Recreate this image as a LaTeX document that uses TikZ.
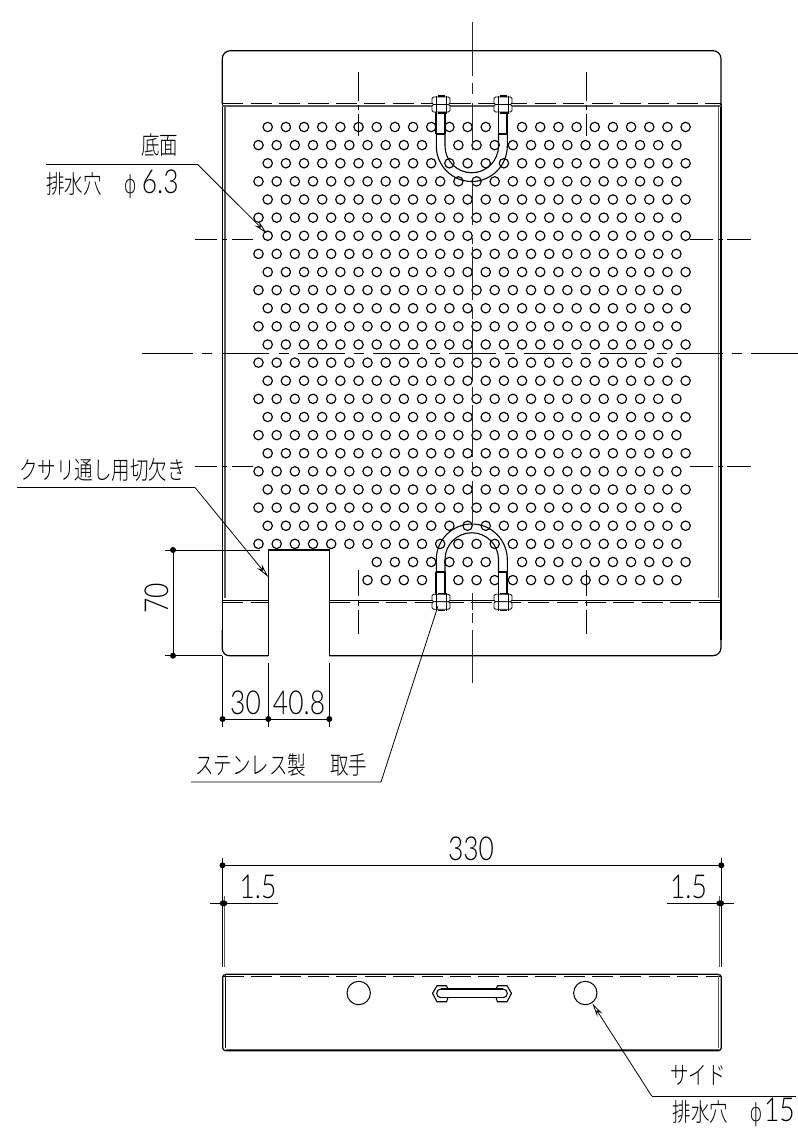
\documentclass[tikz,border=0pt]{standalone}
\usepackage{fontspec}
\usetikzlibrary{arrows.meta}
\newfontfamily\cad[FakeStretch=0.8]{Lato Light}
\newfontfamily\phifont[FakeStretch=0.8]{DejaVu Sans ExtraLight}
\newfontfamily\cjk[FakeStretch=0.74]{Noto Sans CJK JP Light}
\tikzset{
  ln/.style={line width=1.1pt,black},
  thk/.style={line width=1.2pt,black},
  grayl/.style={line width=1.8pt,black!65},
  hidden/.style={line width=1pt,black,dash pattern=on 21pt off 7.4pt},
  thin/.style={line width=.8pt,black},
  hole/.style={line width=1.15pt,black},
  dot/.style={fill=black,draw=none},
  lead/.style={line width=.8pt,black,-{Stealth[open,length=14pt,width=6pt,fill=white]}},
  plain/.style={line width=.8pt,black},
  txt/.style={font=\cad\fontsize{33}{33}\selectfont,inner sep=0pt},
  jtxt/.style={font=\cjk\fontsize{25}{25}\selectfont,inner sep=0pt},
}
\newcommand{\nutpair}[2]{% centre x, centre y
  \draw[thin,fill=white,rounded corners=1.5pt] (#1-9,#2-7.5) rectangle (#1+9,#2);
  \draw[thin,fill=white,rounded corners=1.5pt] (#1-9,#2) rectangle (#1+9,#2+7.5);
  \draw[thin] (#1-5,#2-9) -- (#1-5,#2+9) (#1+5,#2-9) -- (#1+5,#2+9);
  \draw[thk] (#1-3.5,#2-8.5) -- (#1+3.5,#2-8.5) (#1-3.5,#2+8.5) -- (#1+3.5,#2+8.5);
}
\newcommand{\leg}[3]{% centre x, y1, y2
  \fill[white] (#1-4.4,#2) rectangle (#1+4.4,#3);
  \draw[line width=1.9pt,black] (#1-4.4,#2) -- (#1-4.4,#3) (#1+4.4,#2) -- (#1+4.4,#3);
}
\newcommand{\phitext}[2]{{\phifont\fontsize{25}{25}\selectfont ϕ}\hspace{#1}{\cad\fontsize{33}{33}\selectfont #2}}
\begin{document}
\begin{tikzpicture}[x=1pt,y=-1pt]
\useasboundingbox (0,0) rectangle (798,1128);
\fill[white] (0,0) rectangle (798,1128);
% ---------- holes
\foreach \k in {0,...,25}{
  \pgfmathsetmacro{\yy}{127+18.125*\k}
  \pgfmathtruncatemacro{\odd}{mod(\k,2)}
  \pgfmathsetmacro{\xs}{\odd==1 ? 258.5 : 267.7}
  \pgfmathtruncatemacro{\cs}{\k>=24 ? 6 : 0}
  \foreach \c in {\cs,...,23}{
    \pgfmathsetmacro{\xx}{\xs+18.17*\c}
    \pgfmathtruncatemacro{\skip}{ ((\k==0||\k==24) && \c==13) || ((\k==1||\k==25) && \c==10) ? 1 : 0}
    \ifnum\skip=0
      \draw[hole] (\xx,\yy) circle (4.7);
    \fi
  }
}
% ---------- plan outline
\draw[thk,rounded corners=8pt] (222.3,104) -- (222.3,50.7) -- (721,50.7) -- (721,104);
\draw[thk] (222.3,104) -- (222.3,640);
\draw[thk] (721,104) -- (721,640);
\draw[thk,rounded corners=7pt] (222.3,630) -- (222.3,655.7) -- (268.3,655.7);
\draw[thk] (268.3,655.7) -- (268.3,550) -- (329.3,550) -- (329.3,655.7);
\draw[thk,rounded corners=8pt] (329.3,655.7) -- (721,655.7) -- (721,630);
\draw[hidden] (222.3,103.5) -- (721,103.5);
\draw[grayl] (222.3,105.8) -- (721,105.8);
\draw[grayl] (224.8,106) -- (224.8,598);
\draw[grayl] (718.5,106) -- (718.5,598);
\draw[ln] (222.3,600.8) -- (268.3,600.8) (329.3,600.8) -- (721,600.8);
\draw[hidden] (222.3,602.8) -- (268.3,602.8);
\draw[hidden] (329.3,602.8) -- (721,602.8);
% ---------- centre lines
\draw[thin] (142,353.5) -- (193,353.5) (202,353.5) -- (212,353.5);
\foreach \a in {222,297.6,373.2,448.8,524.4,600,675.6}{
  \draw[thin] (\a,353.5) -- (\a+47,353.5) (\a+56.5,353.5) -- (\a+66.5,353.5);
}
\draw[thin] (751,353.5) -- (798,353.5);
\foreach \yy in {239,466}{
  \draw[thin] (195,\yy) -- (217,\yy) (222,\yy) -- (227,\yy) (232,\yy) -- (253,\yy);
  \draw[thin] (690,\yy) -- (713,\yy) (718,\yy) -- (723,\yy) (727,\yy) -- (751,\yy);
}
\foreach \xx in {358.6,586}{
  \draw[thin] (\xx,72) -- (\xx,101) (\xx,105) -- (\xx,110) (\xx,114) -- (\xx,136);
  \draw[thin] (\xx,570) -- (\xx,596) (\xx,600) -- (\xx,606) (\xx,610) -- (\xx,634);
}
\draw[line width=.9pt,black!85] (472,22) -- (472,76) (472,83) -- (472,94) (472,103) -- (472,150)
  (472,182) -- (472,225) (472,238) -- (472,244) (472,247) -- (472,300) (472,307) -- (472,319)
  (472,321) -- (472,381) (472,387) -- (472,400) (472,405) -- (472,457) (472,462) -- (472,475)
  (472,481) -- (472,523) (472,593) -- (472,610) (472,613) -- (472,623) (472,630) -- (472,683);
% ---------- handles (top)
\draw[ln] (436.3,134) -- (436.3,146) arc[start angle=180,end angle=0,radius=35.5] -- (507.3,134);
\draw[ln] (445,134) -- (445,146) arc[start angle=180,end angle=0,radius=26.75] -- (498.5,134);
\leg{440.7}{100}{134}\leg{502.9}{100}{134}
\draw[ln] (436.3,134) -- (445,134) (498.5,134) -- (507.3,134);
\nutpair{441}{104.5}\nutpair{503}{104.5}
% ---------- handles (bottom)
\draw[ln] (436.3,572) -- (436.3,559.5) arc[start angle=180,end angle=360,radius=35.5] -- (507.3,572);
\draw[ln] (445,572) -- (445,559.5) arc[start angle=180,end angle=360,radius=26.75] -- (498.5,572);
\leg{440.7}{572}{598}\leg{502.9}{572}{598}
\draw[ln] (436.3,572) -- (445,572) (498.5,572) -- (507.3,572);
\nutpair{441}{601.8}\nutpair{503}{601.8}
% ---------- dimensions, plan
\coordinate (d70a) at (173,550); \coordinate (d70b) at (173,655.7);
\draw[thin] (165,550) -- (260,550) (165,655.7) -- (222.3,655.7) (d70a) -- (d70b);
\fill[dot] (d70a) circle (3) (d70b) circle (3);
\node[txt,rotate=90,anchor=base] (t70) at (168,598) {70};
\coordinate (d30a) at (222.5,719); \coordinate (d30b) at (268.3,719); \coordinate (d30c) at (329.3,719);
\draw[thin] (222.3,655.7) -- (222.3,727) (268.3,663) -- (268.3,727) (329.3,663) -- (329.3,727) (d30a) -- (d30c);
\fill[dot] (d30a) circle (3) (d30b) circle (3) (d30c) circle (3);
\node[txt,anchor=base] (t30) at (245.5,714) {30};
\node[txt,anchor=base] (t408) at (299,714) {40.8};
% ---------- side view
\draw[thk,rounded corners=3pt] (222.7,974.3) -- (222.7,1050.7) -- (721.3,1050.7) -- (721.3,974.3) -- cycle;
\draw[hidden] (222.7,976.5) -- (721.3,976.5);
\draw[ln] (225.5,974.3) -- (225.5,1048);
\draw[grayl] (718.5,974.3) -- (718.5,1048);
\draw[grayl] (226,1049.5) -- (719,1049.5);
\node[circle,draw,line width=1pt,minimum size=23.4pt,inner sep=0pt] (h1) at (358.7,993) {};
\node[circle,draw,line width=1pt,minimum size=23.4pt,inner sep=0pt] (h2) at (585.3,993) {};
% side handle
\draw[ln] (441,989) -- (503,989) (441,997.7) -- (503,997.7);
\draw[ln] (446.5,985.7) -- (437,985.7) -- (432.5,993.3) -- (437,1001.7) -- (446.5,1001.7) -- (448,997.7) (446.5,985.7) -- (448,989);
\draw[ln] (441,989) arc[start angle=270,end angle=90,radius=4.35];
\draw[ln] (497.5,985.7) -- (507,985.7) -- (511.5,993.3) -- (507,1001.7) -- (497.5,1001.7) -- (496,997.7) (497.5,985.7) -- (496,989);
\draw[ln] (503,989) arc[start angle=-90,end angle=90,radius=4.35];
% ---------- dimensions, side
\coordinate (d3a) at (222.5,865.3); \coordinate (d3b) at (721.3,865.3);
\draw[thin] (d3a) -- (d3b) (222.5,858) -- (222.5,967) (721.3,858) -- (721.3,967);
\draw[grayl,line width=1.2pt] (224.7,896) -- (224.7,967) (719.2,896) -- (719.2,967);
\fill[dot] (d3a) circle (3) (d3b) circle (3);
\draw[thin] (210,903.3) -- (278,903.3) (667,903.3) -- (734,903.3);
\fill[dot] (223.5,903.3) ellipse (4 and 3) (720.3,903.3) ellipse (4 and 3);
\node[txt,anchor=base] (t330) at (471,860) {330};
\node[txt,anchor=base] (t15a) at (258,898.5) {1.5};
\node[txt,anchor=base] (t15b) at (688.5,898.5) {1.5};
% ---------- leaders
\coordinate (a1) at (46,164.3); \coordinate (a2) at (197.5,164.3); \coordinate (a3) at (266.7,233.3);
\draw[plain] (a1) -- (a2); \draw[lead] (a2) -- (a3);
\node[jtxt,anchor=base east] (l1) at (178.5,154) {底面};
\node[jtxt,anchor=base west] (l2) at (46,193) {排水穴\hspace{22pt}\phitext{5pt}{6.3}};
\coordinate (b1) at (17,487.5); \coordinate (b2) at (195,487.5); \coordinate (b3) at (268.3,577);
\draw[plain] (b1) -- (b2); \draw[lead] (b2) -- (b3);
\node[jtxt,anchor=base west] (l3) at (19,479) {クサリ通し用切欠き};
\coordinate (c1) at (191,782); \coordinate (c2) at (381,782); \coordinate (c3) at (438,606);
\draw[plain] (c1) -- (c2) -- (c3);
\node[jtxt,anchor=base west] (l4) at (195,774) {ステンレス製\hspace{24pt}取手};
\coordinate (e1) at (796,1096); \coordinate (e2) at (651.7,1096); \coordinate (e3) at (592.3,1003.3);
\draw[plain] (e1) -- (e2); \draw[lead] (e2) -- (e3);
\node[jtxt,anchor=base] (l5) at (698,1084) {サイド};
\node[jtxt,anchor=base west] (l6) at (672.7,1121.5) {排水穴\hspace{21pt}\phitext{1.5pt}{15}};
\end{tikzpicture}
\end{document}
